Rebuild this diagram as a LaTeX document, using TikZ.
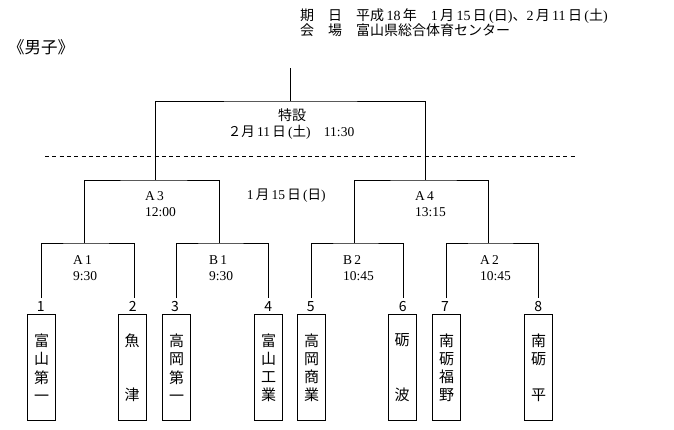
\documentclass[tikz,border=0pt]{standalone}
\usepackage{fontspec}
\setmainfont{Liberation Serif}
\newfontfamily\cjk{Noto Sans CJK JP}
\newcommand{\jp}[1]{{\cjk #1}}
\begin{document}
\begin{tikzpicture}[x=1pt,y=-1pt,
  bracket/.style={draw=black, line width=1pt},
  cut/.style={draw=black, line width=1pt, dash pattern=on 4pt off 3.3pt},
  team/.style={draw=black, line width=1pt, minimum width=28pt, minimum height=106pt, inner sep=0pt, align=center, font=\cjk\fontsize{15}{18.3}\selectfont},
  num/.style={inner sep=0pt, font=\cjk\fontsize{14}{14}\selectfont},
  lab/.style={anchor=west, inner sep=0pt, font=\fontsize{13.5}{15}\selectfont},
  hdr/.style={anchor=west, inner sep=0pt, font=\fontsize{14}{16}\selectfont},
]
\useasboundingbox (0,0) rectangle (674,429);

% header
\node[hdr] (date) at (300,16) {\jp{期　日　平成}\,18\,\jp{年　}1\,\jp{月}\,15\,\jp{日}\,(\jp{日})\jp{、}2\,\jp{月}\,11\,\jp{日}\,(\jp{土})};
\node[hdr] (venue) at (300,30.5) {\jp{会　場　富山県総合体育センター}};
\node[hdr, font=\cjk\fontsize{16.5}{18}\selectfont] (title) at (8,47.5) {《男子》};

% bracket coordinates
\coordinate (top) at (290.7,68);
\coordinate (F) at (290.7,101);
\coordinate (A3) at (155.7,180);
\coordinate (A4) at (425.7,180);
\coordinate (A1) at (84.3,243);
\coordinate (B1) at (219.3,243);
\coordinate (B2) at (354.3,243);
\coordinate (A2) at (488.7,243);
\coordinate (e1) at (41.7,298);
\coordinate (e2) at (134.3,298);
\coordinate (e3) at (176.7,298);
\coordinate (e4) at (268.3,298);
\coordinate (e5) at (311.7,298);
\coordinate (e6) at (403.3,298);
\coordinate (e7) at (446.7,298);
\coordinate (e8) at (538.3,298);
\coordinate (d1) at (45,156.7);
\coordinate (d2) at (575,156.7);

\draw[bracket] (top) -- (F);
\draw[bracket] (A3) |- (F) -| (A4);
\draw[bracket] (A1) |- (A3) -| (B1);
\draw[bracket] (B2) |- (A4) -| (A2);
\draw[bracket] (e1) |- (A1) -| (e2);
\draw[bracket] (e3) |- (B1) -| (e4);
\draw[bracket] (e5) |- (B2) -| (e6);
\draw[bracket] (e7) |- (A2) -| (e8);
\draw[cut] (d1) -- (d2);

% match labels
\node[inner sep=0pt, font=\cjk\fontsize{14}{16}\selectfont] (fin) at (292,115.5) {特設};
\node[inner sep=0pt, font=\fontsize{13.5}{15}\selectfont] (fintime) at (291,132.5) {\jp{２月}\,11\,\jp{日}\,(\jp{土})\quad 11:30};
\node[lab] (la3) at (145,195.7) {A\,3};
\node[lab] (ta3) at (145,212) {12:00};
\node[lab] (day1) at (246.7,195.5) {1\,\jp{月}\,15\,\jp{日}\,(\jp{日})};
\node[lab] (la4) at (415,195.7) {A\,4};
\node[lab] (ta4) at (415,212) {13:15};
\node[lab] (la1) at (73,260) {A\,1};
\node[lab] (ta1) at (73,276) {9:30};
\node[lab] (lb1) at (209,260) {B\,1};
\node[lab] (tb1) at (209,276) {9:30};
\node[lab] (lb2) at (343,260) {B\,2};
\node[lab] (tb2) at (343,276) {10:45};
\node[lab] (la2) at (480,260) {A\,2};
\node[lab] (ta2) at (480,276) {10:45};

% seed numbers
\node[num] (n1) at (40.7,306.5) {1};
\node[num] (n2) at (132.7,306.5) {2};
\node[num] (n3) at (175,306.5) {3};
\node[num] (n4) at (268.3,306.5) {4};
\node[num] (n5) at (310.7,306.5) {5};
\node[num] (n6) at (402.7,306.5) {6};
\node[num] (n7) at (445,306.5) {7};
\node[num] (n8) at (538.3,306.5) {8};

% teams
\node[team] (t1) at (41.5,367.8) {富\\山\\第\\一};
\node[team] (t2) at (132.2,367.8) {魚\\　\\　\\津};
\node[team] (t3) at (176.5,367.8) {高\\岡\\第\\一};
\node[team] (t4) at (268.5,367.8) {富\\山\\工\\業};
\node[team] (t5) at (311.5,367.8) {高\\岡\\商\\業};
\node[team] (t6) at (402.2,367.8) {砺\\　\\　\\波};
\node[team] (t7) at (446.5,367.8) {南\\砺\\福\\野};
\node[team] (t8) at (538.5,367.8) {南\\砺\\　\\平};
\end{tikzpicture}
\end{document}
